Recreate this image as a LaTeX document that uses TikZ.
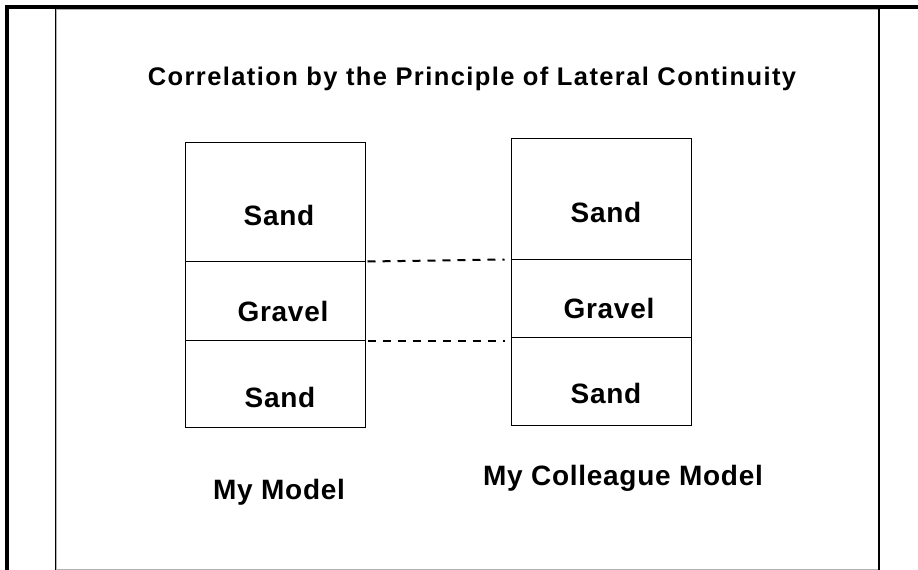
\documentclass[tikz,border=0pt]{standalone}
\usepackage{fontspec}
\setmainfont{Liberation Sans}
\usetikzlibrary{calc}
\begin{document}
\begin{tikzpicture}[x=1pt,y=-1pt,
  layer/.style={draw=black,line width=1pt,inner sep=0pt,minimum width=180pt},
  txt/.style={font=\fontsize{28}{30}\selectfont\bfseries\addfontfeatures{LetterSpace=2.5},inner sep=0pt},
  ttl/.style={font=\fontsize{25.5}{28}\selectfont\bfseries\addfontfeatures{LetterSpace=5.5},inner sep=0pt},
  corr/.style={dash pattern=on 8pt off 7pt,line width=2pt}]
\useasboundingbox (0,0) rectangle (918,570);
% frame
\draw[gray!60,line width=1pt] (56.5,9.5) rectangle (878,569.5);
\draw[line width=1pt] (55.5,9) -- (55.5,570);
\draw[line width=1.6pt] (879,9) -- (879,570);
\draw[line width=4pt] (7,570) -- (7,7) -- (918,7);
% title
\node[ttl] (title) at (472,79) {Correlation by the Principle of Lateral Continuity};
% left column
\node[layer,minimum height=119pt] (L1) at (275,201.5) {};
\node[layer,minimum height=79pt] (L2) at (275,300.5) {};
\node[layer,minimum height=87pt] (L3) at (275,383.5) {};
\node[txt] (tL1) at (279,215) {Sand};
\node[txt] (tL2) at (283,311) {Gravel};
\node[txt] (tL3) at (280,397) {Sand};
% right column
\node[layer,minimum height=121pt] (R1) at (601,198.5) {};
\node[layer,minimum height=78pt] (R2) at (601,298) {};
\node[layer,minimum height=88pt] (R3) at (601,381) {};
\node[txt] (tR1) at (606,212) {Sand};
\node[txt] (tR2) at (609,308) {Gravel};
\node[txt] (tR3) at (606,393) {Sand};
% labels
\node[txt] (lab1) at (279,492) {My Model};
\node[txt] (lab2) at (623,478) {My Colleague Model};
% correlation lines
\draw[corr] ($(L1.south east)+(2,0)$) -- ($(R1.south west)+(-6,0)$);
\draw[corr] ($(L2.south east)+(2,0)$) -- ($(R2.south west)+(-6,3)$);
\end{tikzpicture}
\end{document}
